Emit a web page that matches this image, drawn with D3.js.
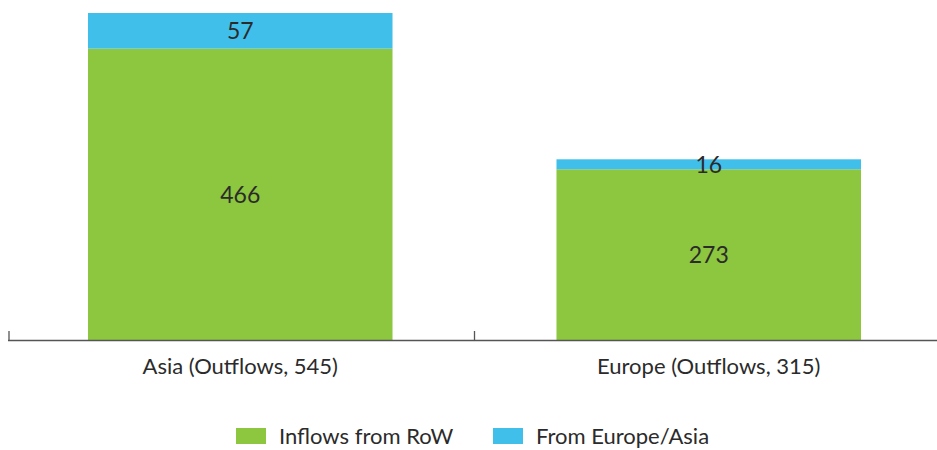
<!DOCTYPE html>
<html>
<head>
<meta charset="utf-8">
<script src="https://cdn.jsdelivr.net/npm/d3@7"></script>
<style>
  body { margin: 0; background: #fff; }
  text { font-family: Lato, "Open Sans", sans-serif; fill: #2b2b2b; }
</style>
</head>
<body>
<svg width="937" height="450"></svg>
<script>
// data
var categories = ['Asia (Outflows, 545)', 'Europe (Outflows, 315)'];
var seriesNames = ['Inflows from RoW', 'From Europe/Asia'];
var inflowsRoW = [466, 273];
var fromEurAsia = [57, 16];
var colors = ['#8dc63f', '#40bfea'];

var svg = d3.select('svg');

var x = d3.scaleBand().domain(categories).range([6, 943]).paddingInner(0.35).paddingOuter(0.175);
var y = d3.scaleLinear().domain([0, 523]).range([340, 13]);

var rows = categories.map(function(c, i) {
    return { cat: c, s0: inflowsRoW[i], s1: fromEurAsia[i] };
});
var stack = d3.stack().keys(['s0', 's1'])(rows);

var layers = svg.selectAll('g.layer').data(stack).enter().append('g')
    .attr('class', 'layer')
    .attr('fill', function(d, i) { return colors[i]; });

layers.selectAll('rect').data(function(d) { return d; }).enter().append('rect')
    .attr('x', function(d) { return x(d.data.cat); })
    .attr('y', function(d) { return y(d[1]); })
    .attr('width', x.bandwidth())
    .attr('height', function(d) { return y(d[0]) - y(d[1]); });

layers.selectAll('text').data(function(d) { return d; }).enter().append('text')
    .attr('x', function(d) { return x(d.data.cat) + x.bandwidth() / 2; })
    .attr('y', function(d) { return (y(d[0]) + y(d[1])) / 2; })
    .attr('dy', '0.36em')
    .attr('text-anchor', 'middle')
    .style('font-size', '23px')
    .text(function(d) { return d[1] - d[0]; });

// axis
var ax = svg.append('g');
ax.append('line')
    .attr('x1', 8).attr('x2', 937).attr('y1', 340.5).attr('y2', 340.5)
    .attr('stroke', '#555').attr('stroke-width', 1.3);
var step = x.step();
var tickPos = [x.range()[0] + 3, x.range()[0] + step];
ax.selectAll('line.tick').data(tickPos).enter().append('line')
    .attr('class', 'tick')
    .attr('x1', function(d) { return d; }).attr('x2', function(d) { return d; })
    .attr('y1', 331).attr('y2', 340)
    .attr('stroke', '#555').attr('stroke-width', 1.3);

ax.selectAll('text.cat').data(categories).enter().append('text')
    .attr('class', 'cat')
    .attr('x', function(d) { return x(d) + x.bandwidth() / 2; })
    .attr('y', 374)
    .attr('text-anchor', 'middle')
    .style('font-size', '22px')
    .text(function(d) { return d; });

// legend
var legX = [236, 493];
var leg = svg.selectAll('g.leg').data(seriesNames).enter().append('g')
    .attr('class', 'leg')
    .attr('transform', function(d, i) { return 'translate(' + legX[i] + ',428)'; });
leg.append('rect').attr('width', 30).attr('height', 16)
    .attr('fill', function(d, i) { return colors[i]; });
leg.append('text').attr('x', 43).attr('y', 16)
    .style('font-size', '22px')
    .text(function(d) { return d; });
</script>
</body>
</html>
